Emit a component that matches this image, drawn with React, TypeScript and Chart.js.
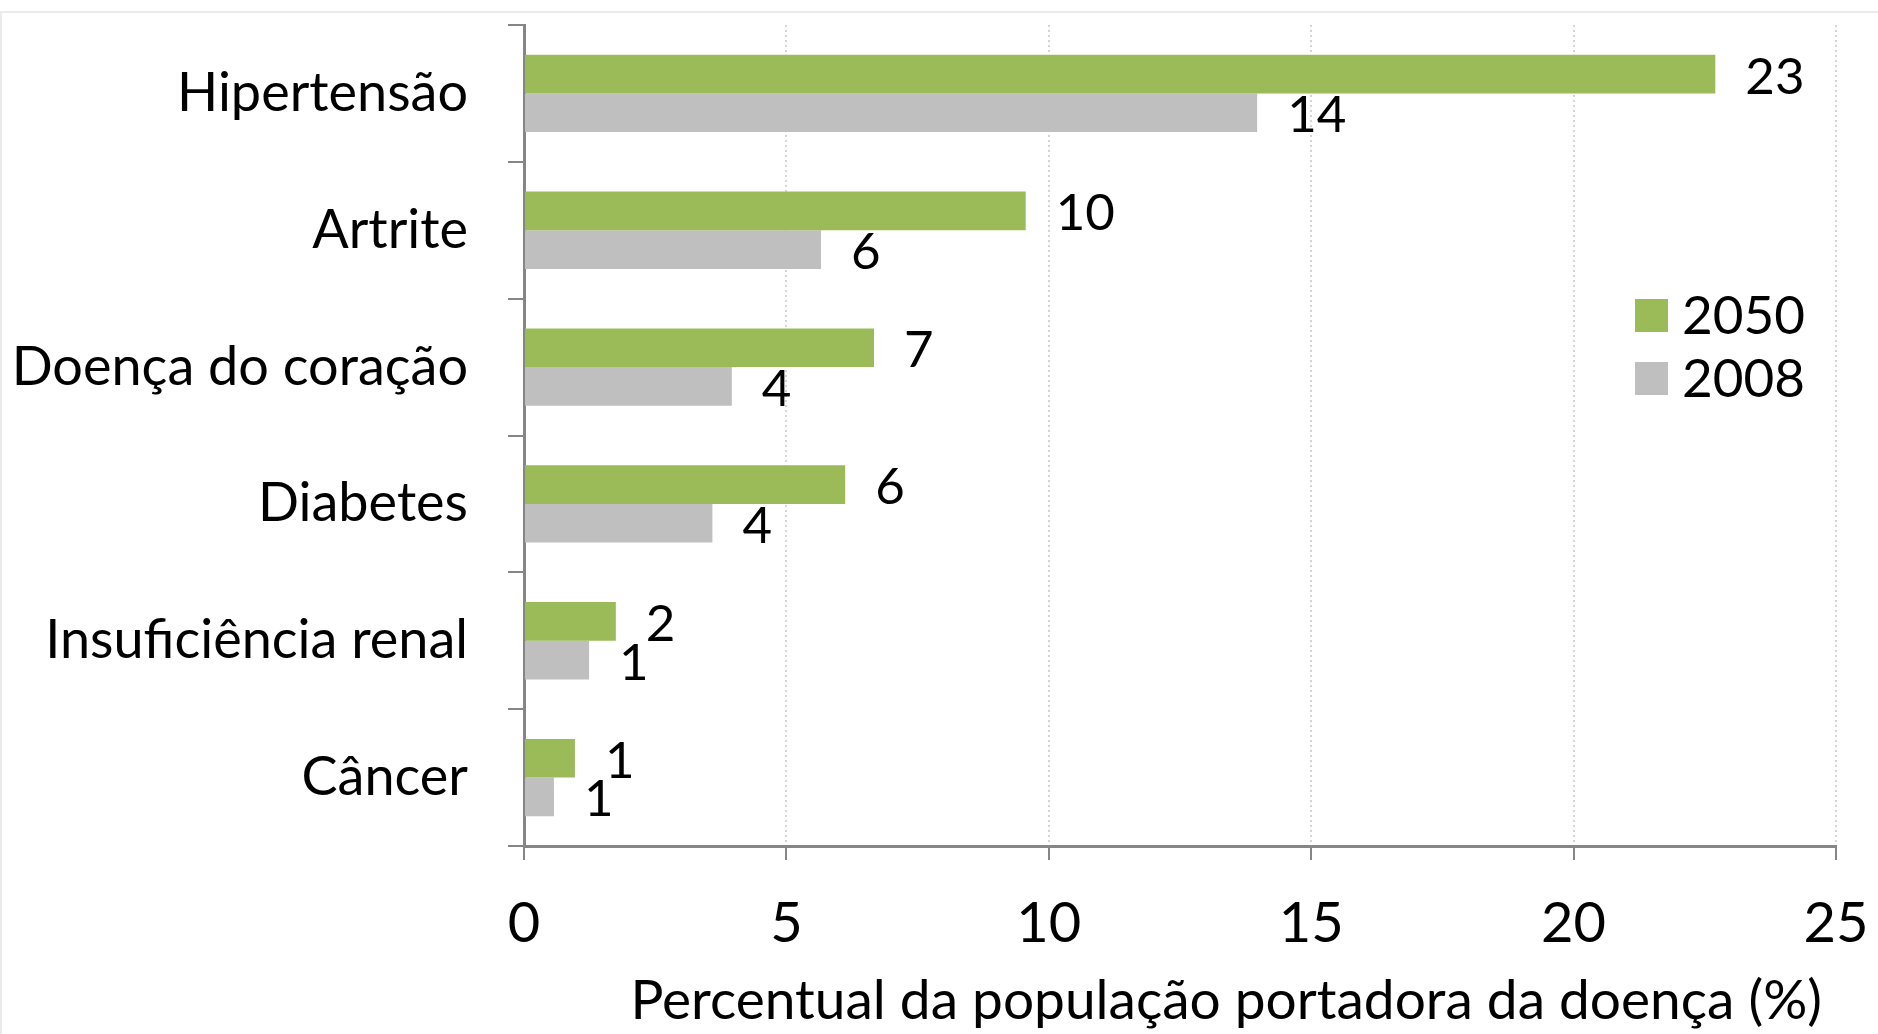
import React, { useEffect, useRef } from "react";
import { Chart, registerables } from "chart.js";

Chart.register(...registerables);

const categories = ["Hipertensão", "Artrite", "Doença do coração", "Diabetes", "Insuficiência renal", "Câncer"];
const values2050 = [22.7, 9.56, 6.67, 6.12, 1.75, 0.97];
const values2008 = [13.97, 5.66, 3.96, 3.59, 1.24, 0.57];
const labels2050 = ["23", "10", "7", "6", "2", "1"];
const labels2008 = ["14", "6", "4", "4", "1", "1"];
const seriesNames = ["2050", "2008"];
const xTicks = [0, 5, 10, 15, 20, 25];
const axisTitle = "Percentual da população portadora da doença (%)";

const GREEN = "#9BBB59";
const GRAY = "#BFBFBF";
const AXIS = "#868686";
const FONT = "Lato";

const customPlugin = {
  id: "custom",
  beforeDraw(chart: any) {
    const ctx = chart.ctx;
    ctx.save();
    ctx.strokeStyle = "#ebebeb";
    ctx.lineWidth = 2;
    ctx.beginPath();
    ctx.moveTo(1, chart.height + 5);
    ctx.lineTo(1, 12);
    ctx.lineTo(chart.width + 5, 12);
    ctx.stroke();
    ctx.restore();
  },
  afterDraw(chart: any) {
    const ctx = chart.ctx;
    const area = chart.chartArea;
    const xs = chart.scales.x;
    ctx.save();
    // x tick marks
    ctx.strokeStyle = AXIS;
    ctx.lineWidth = 2;
    xTicks.forEach((v) => {
      const px = Math.round(xs.getPixelForValue(v));
      ctx.beginPath();
      ctx.moveTo(px, area.bottom);
      ctx.lineTo(px, area.bottom + 14);
      ctx.stroke();
    });
    // data labels
    ctx.fillStyle = "#000";
    ctx.font = `51px ${FONT}`;
    ctx.textBaseline = "middle";
    ctx.textAlign = "left";
    const lbls = [labels2050, labels2008];
    chart.data.datasets.forEach((ds: any, di: number) => {
      const meta = chart.getDatasetMeta(di);
      meta.data.forEach((el: any, i: number) => {
        ctx.fillText(lbls[di][i], el.x + 30, el.y + 3);
      });
    });
    // legend
    const lx = 1635;
    const ly = [299, 362];
    chart.data.datasets.forEach((ds: any, di: number) => {
      ctx.fillStyle = ds.backgroundColor;
      ctx.fillRect(lx, ly[di], 33, 33);
      ctx.fillStyle = "#000";
      ctx.font = `53px ${FONT}`;
      ctx.fillText(ds.label, lx + 47, ly[di] + 18);
    });
    ctx.restore();
  },
};

export default function App() {
  const ref = useRef<HTMLCanvasElement>(null);
  useEffect(() => {
    if (!ref.current) return;
    const chart = new Chart(ref.current, {
      type: "bar",
      data: {
        labels: categories,
        datasets: [
          { label: seriesNames[0], data: values2050, backgroundColor: GREEN, borderWidth: 0 },
          { label: seriesNames[1], data: values2008, backgroundColor: GRAY, borderWidth: 0 },
        ],
      },
      options: {
        indexAxis: "y",
        animation: false,
        responsive: false,
        maintainAspectRatio: false,
        layout: { padding: { top: 25, right: 42, left: 0, bottom: 0 } },
        datasets: { bar: { categoryPercentage: 0.565, barPercentage: 1.0 } } as any,
        plugins: { legend: { display: false }, tooltip: { enabled: false } },
        scales: {
          x: {
            min: 0,
            max: 25,
            ticks: {
              stepSize: 5,
              color: "#000",
              font: { family: FONT, size: 56 },
              padding: 44,
            },
            grid: {
              drawOnChartArea: true,
              drawTicks: false,
              color: (c: any) => (c.tick && c.tick.value === 0 ? "rgba(0,0,0,0)" : "#d4d4d4"),
              lineWidth: 2,
            },
            border: { display: true, color: AXIS, width: 3, dash: [2, 3] },
            title: {
              display: true,
              text: axisTitle + "\u00a0",
              align: "end",
              color: "#000",
              font: { family: FONT, size: 55 },
              padding: { top: 0, bottom: 0 },
            },
            afterFit: (s: any) => {
              s.height = 188;
              s.paddingLeft = 0;
              s.paddingRight = 0;
            },
          },
          y: {
            ticks: {
              color: "#000",
              font: { family: FONT, size: 54 },
              padding: 40,
            },
            grid: {
              offset: true,
              drawOnChartArea: false,
              drawTicks: true,
              tickLength: 16,
              color: AXIS,
              lineWidth: 2,
            },
            border: { display: true, color: AXIS, width: 3 },
            afterFit: (s: any) => {
              s.width = 524;
              s.paddingTop = 0;
              s.paddingBottom = 0;
            },
          },
        },
      },
      plugins: [customPlugin],
    });
    return () => chart.destroy();
  }, []);
  return (
    <div style={{ position: "fixed", left: 0, top: 0, width: 1878, height: 1034, background: "#fff" }}>
      <canvas ref={ref} width={1878} height={1034} style={{ width: 1878, height: 1034 }} />
    </div>
  );
}
